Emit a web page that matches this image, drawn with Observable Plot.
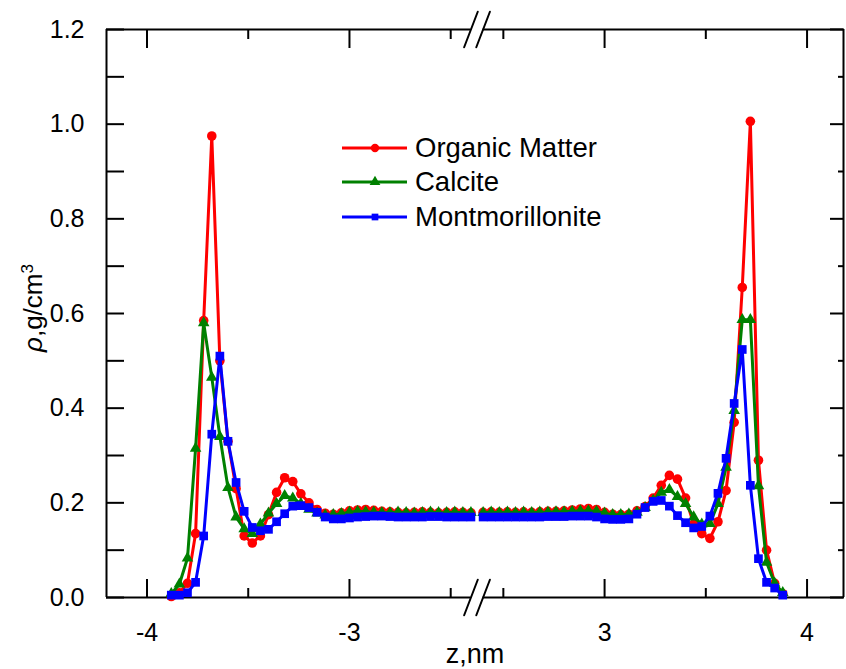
<!DOCTYPE html>
<html><head><meta charset="utf-8">
<script src="https://cdn.jsdelivr.net/npm/d3@7"></script>
<script src="https://cdn.jsdelivr.net/npm/@observablehq/plot@0.6"></script>
<style>
html,body{margin:0;padding:0;background:#fff;}
#chart{position:relative;width:846px;height:669px;}
</style></head><body><div id="chart"></div>
<script>
// ---- data ----
const zLeft = [-3.88,-3.84,-3.80,-3.76,-3.72,-3.68,-3.64,-3.60,-3.56,-3.52,-3.48,-3.44,-3.40,-3.36,-3.32,-3.28,-3.24,-3.20,-3.16,-3.12,-3.08,-3.04,-3.00,-2.96,-2.92,-2.88,-2.84,-2.80,-2.76,-2.72,-2.68,-2.64,-2.60,-2.56,-2.52,-2.48,-2.44,-2.40];
const zRight = [2.40,2.44,2.48,2.52,2.56,2.60,2.64,2.68,2.72,2.76,2.80,2.84,2.88,2.92,2.96,3.00,3.04,3.08,3.12,3.16,3.20,3.24,3.28,3.32,3.36,3.40,3.44,3.48,3.52,3.56,3.60,3.64,3.68,3.72,3.76,3.80,3.84,3.88];

const organicLeft = [0.002,0.01,0.03,0.135,0.585,0.975,0.50,0.33,0.23,0.13,0.115,0.13,0.175,0.222,0.253,0.245,0.219,0.200,0.186,0.178,0.176,0.179,0.183,0.185,0.186,0.184,0.182,0.181,0.180,0.179,0.180,0.181,0.180,0.179,0.180,0.181,0.180,0.179];
const calciteLeft = [0.008,0.028,0.083,0.315,0.58,0.465,0.34,0.232,0.17,0.145,0.135,0.155,0.178,0.198,0.215,0.21,0.198,0.186,0.178,0.174,0.175,0.177,0.180,0.182,0.181,0.180,0.179,0.179,0.180,0.179,0.178,0.179,0.180,0.179,0.179,0.180,0.179,0.179];
const montLeft = [0.005,0.005,0.01,0.032,0.13,0.345,0.51,0.33,0.243,0.182,0.148,0.141,0.144,0.16,0.177,0.193,0.194,0.19,0.18,0.17,0.166,0.166,0.168,0.170,0.171,0.172,0.172,0.171,0.170,0.170,0.170,0.170,0.171,0.171,0.170,0.170,0.170,0.170];

const organicRight = [0.180,0.181,0.180,0.181,0.180,0.181,0.180,0.181,0.182,0.182,0.183,0.185,0.187,0.188,0.186,0.180,0.176,0.175,0.176,0.183,0.192,0.21,0.237,0.258,0.25,0.21,0.155,0.135,0.125,0.16,0.226,0.37,0.655,1.006,0.29,0.10,0.03,0.008];
const calciteRight = [0.179,0.180,0.179,0.180,0.179,0.180,0.179,0.180,0.180,0.181,0.181,0.182,0.183,0.183,0.182,0.178,0.175,0.175,0.176,0.180,0.19,0.205,0.222,0.228,0.213,0.198,0.17,0.155,0.156,0.198,0.275,0.395,0.587,0.587,0.236,0.074,0.03,0.01];
const montRight = [0.170,0.170,0.170,0.170,0.170,0.170,0.170,0.170,0.171,0.171,0.171,0.172,0.172,0.172,0.170,0.166,0.165,0.165,0.166,0.176,0.19,0.203,0.205,0.193,0.173,0.158,0.147,0.15,0.172,0.22,0.294,0.41,0.524,0.237,0.082,0.032,0.02,0.005];

const seriesNames = ["Organic Matter","Calcite","Montmorillonite"];
const seriesColors = ["#ff0000","#008000","#0000ff"];
const seriesSymbols = ["circle","triangle","square"];
const seriesLeft = [organicLeft, calciteLeft, montLeft];
const seriesRight = [organicRight, calciteRight, montRight];

const yTicksMajor = [0.0,0.2,0.4,0.6,0.8,1.0,1.2];
const yTicksMinor = [0.1,0.3,0.5,0.7,0.9,1.1];
const xTicksMajor = [-4,-3,3,4];
const xTicksMinor = [-3.5,-2.5,2.5,3.5];
const xLeftDomain = [-4.2,-2.4];
const xRightDomain = [2.4,4.18];
const breakGap = 0.06; // width of the axis break, in nm units

// ---- build rows ----
const rows = [];
seriesNames.forEach((name, i) => {
  zLeft.forEach((z, j) => rows.push({series: name, seg: name + "-L", z, rho: seriesLeft[i][j]}));
  zRight.forEach((z, j) => rows.push({series: name, seg: name + "-R", z, rho: seriesRight[i][j]}));
});

const shift = xRightDomain[0] - xLeftDomain[1] - breakGap;
const xTransform = z => z > 0 ? z - shift : z;

const breaks = [];
[xLeftDomain[1], xRightDomain[0]].forEach(x => [0, 1.2].forEach(y => breaks.push({x, y})));

const slash = {draw(ctx, l) { ctx.moveTo(0, 0); ctx.lineTo(0, -l); }};

const dataMarks = [];
seriesNames.forEach((name, i) => {
  const d = rows.filter(r => r.series === name);
  const r = seriesSymbols[i] === "circle" ? 4.8 : seriesSymbols[i] === "triangle" ? 4.3 : 4.9;
  dataMarks.push(Plot.line(d, {x: "z", y: "rho", z: "seg", stroke: seriesColors[i], strokeWidth: 3}));
  dataMarks.push(Plot.dot(d, {x: "z", y: "rho", fill: seriesColors[i], stroke: "none", symbol: seriesSymbols[i], r}));
});

const svg = Plot.plot({
  width: 846, height: 669,
  marginLeft: 106, marginRight: 3, marginTop: 29, marginBottom: 72,
  style: {fontFamily: "'Liberation Sans', Arial, sans-serif", fontSize: "25px", color: "#000", background: "#fff"},
  x: {type: "linear", transform: xTransform, domain: [xLeftDomain[0], xRightDomain[1] - shift], label: null},
  y: {domain: [0, 1.2], label: null},
  marks: [
    // frame lines
    Plot.ruleX([xLeftDomain[0], xRightDomain[1]], {stroke: "#000", strokeWidth: 2}),
    Plot.ruleY([0, 1.2], {x1: xLeftDomain[0], x2: xLeftDomain[1], stroke: "#000", strokeWidth: 2}),
    Plot.ruleY([0, 1.2], {x1: xRightDomain[0], x2: xRightDomain[1], stroke: "#000", strokeWidth: 2}),
    // left axis ticks (all 18px) and labels
    Plot.axisY(yTicksMajor.concat(yTicksMinor), {anchor: "left", tickSize: -18, tickFormat: () => "", strokeWidth: 2, label: null}),
    Plot.axisY(yTicksMajor, {anchor: "left", tickSize: 0, tickPadding: 22, tickFormat: d3.format(".1f"), fontSize: 25, label: null}),
    // right axis ticks
    Plot.axisY(yTicksMajor, {anchor: "right", tickSize: -14, tickFormat: () => "", strokeWidth: 2, label: null}),
    Plot.axisY(yTicksMinor, {anchor: "right", tickSize: -6, tickFormat: () => "", strokeWidth: 2, label: null}),
    // bottom axis
    Plot.axisX(xTicksMajor, {anchor: "bottom", tickSize: -18, tickPadding: 44, tickFormat: d => String(d), fontSize: 25, strokeWidth: 2, label: null}),
    Plot.axisX(xTicksMinor, {anchor: "bottom", tickSize: -9, tickFormat: () => "", strokeWidth: 2, label: null}),
    // top axis
    Plot.axisX(xTicksMajor, {anchor: "top", tickSize: -18, tickFormat: () => "", strokeWidth: 2, label: null}),
    Plot.axisX(xTicksMinor, {anchor: "top", tickSize: -9, tickFormat: () => "", strokeWidth: 2, label: null}),
    // axis break slashes
    Plot.vector(breaks, {x: "x", y: "y", length: 38, rotate: 21, anchor: "middle", shape: slash, stroke: "#000", strokeWidth: 2}),
    ...dataMarks
  ]
});
document.getElementById("chart").append(svg);

// ---- axis titles and legend ----
const s = d3.select(svg);
const yt = s.append("text").attr("transform", "translate(42,308) rotate(-90)")
  .attr("text-anchor", "middle").attr("fill", "#000").style("font-size", "26px");
yt.append("tspan").attr("font-style", "italic").text("ρ");
yt.append("tspan").text(",g/cm");
yt.append("tspan").attr("dy", "-0.55em").style("font-size", "17px").text("3");

s.append("text").attr("x", 475).attr("y", 663).attr("text-anchor", "middle")
  .attr("fill", "#000").style("font-size", "27px").text("z,nm");

const legendRows = [148, 182, 217];
const symbolTypes = {circle: d3.symbolCircle, triangle: d3.symbolTriangle, square: d3.symbolSquare};
const symbolSizes = {circle: 55, triangle: 50, square: 45};
const lg = s.append("g").attr("text-anchor", "start");
seriesNames.forEach((name, i) => {
  const y = legendRows[i];
  lg.append("line").attr("x1", 342).attr("x2", 407).attr("y1", y).attr("y2", y)
    .attr("stroke", seriesColors[i]).attr("stroke-width", 3);
  lg.append("path").attr("transform", `translate(375,${y})`)
    .attr("d", d3.symbol(symbolTypes[seriesSymbols[i]], symbolSizes[seriesSymbols[i]])())
    .attr("fill", seriesColors[i]);
  lg.append("text").attr("x", 415).attr("y", y + 9).attr("text-anchor", "start").attr("fill", "#000")
    .style("font-size", "27.5px").text(name);
});
</script>
</body></html>
